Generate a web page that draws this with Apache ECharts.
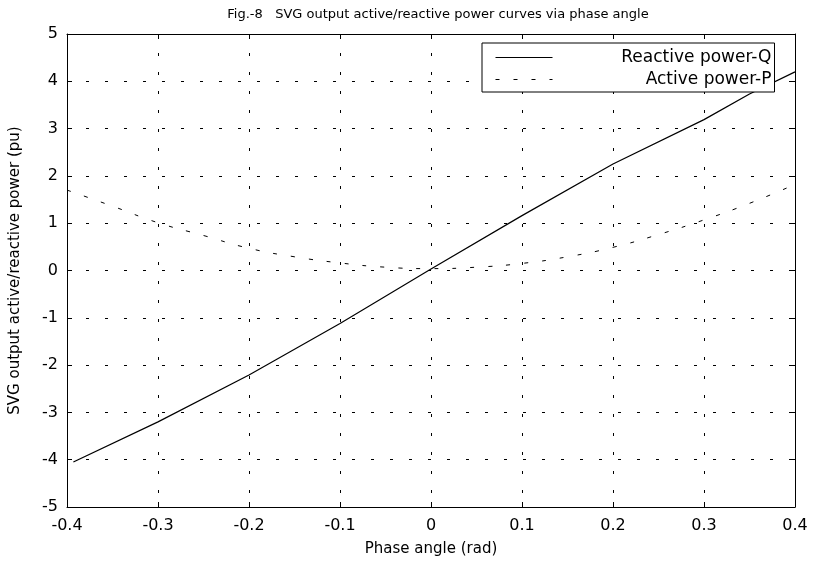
<!DOCTYPE html>
<html>
<head>
<meta charset="utf-8">
<script src="https://cdn.jsdelivr.net/npm/echarts@6/dist/echarts.min.js"></script>
<style>
  html, body { margin: 0; padding: 0; background: #fff; }
  #chart { width: 813px; height: 562px; }
</style>
</head>
<body>
<div id="chart"></div>
<script>
  // phase angle (rad) samples
  const qAngle = [-0.393, -0.3, -0.2, -0.1, 0, 0.1, 0.2, 0.3, 0.35, 0.4];
  const qValues = [-4.05, -3.2, -2.21, -1.12, 0.03, 1.16, 2.25, 3.19, 3.73, 4.2];

  const pAngle = [-0.4, -0.35, -0.3, -0.25, -0.2, -0.15, -0.1, -0.05, 0, 0.05, 0.1, 0.15, 0.2, 0.25, 0.3, 0.35, 0.4];
  const pValues = [1.7, 1.36, 1.01, 0.74, 0.47, 0.29, 0.16, 0.07, 0.04, 0.07, 0.15, 0.29, 0.49, 0.76, 1.07, 1.42, 1.82];

  const xTicks = [-0.4, -0.3, -0.2, -0.1, 0, 0.1, 0.2, 0.3, 0.4];
  const yTicks = [-5, -4, -3, -2, -1, 0, 1, 2, 3, 4, 5];

  const FONT = 'DejaVu Sans';
  const gridLine = { show: true, lineStyle: { color: '#000', width: 1, type: [3, 16] } };

  const fmtX = v => {
    const r = Math.round(v * 10) / 10;
    return r === 0 ? '0' : String(r);
  };

  const chart = echarts.init(document.getElementById('chart'), null, { renderer: 'canvas' });

  chart.setOption({
    animation: false,
    backgroundColor: '#fff',
    title: {
      text: 'Fig.-8   SVG output active/reactive power curves via phase angle',
      left: 433,
      textAlign: 'center',
      top: 3,
      textStyle: { fontFamily: FONT, fontSize: 13, fontWeight: 'normal', color: '#000' }
    },
    grid: { left: 65, right: 18, top: 34, bottom: 55 },
    legend: {
      orient: 'vertical',
      left: 482,
      top: 43,
      padding: [6, 3, 4, 13],
      backgroundColor: '#fff',
      borderColor: '#000',
      borderWidth: 1,
      itemWidth: 57,
      itemHeight: 14,
      itemGap: 5,
      itemStyle: { opacity: 0 },
      lineStyle: { width: 1 },
      formatter: name => '{t|' + name + '}',
      textStyle: {
        fontFamily: FONT, fontSize: 17, color: '#000',
        rich: { t: { fontFamily: FONT, fontSize: 17, color: '#000', width: 214, align: 'right' } }
      },
      data: ['Reactive power-Q', 'Active power-P']
    },
    xAxis: [{
      type: 'value',
      min: -0.4,
      max: 0.4,
      interval: 0.1,
      name: 'Phase angle (rad)',
      nameLocation: 'middle',
      nameGap: 35,
      nameTextStyle: { fontFamily: FONT, fontSize: 15, color: '#000' },
      axisLine: { show: true, onZero: false, lineStyle: { color: '#000', width: 1 } },
      axisTick: { show: true, inside: true, length: 5, lineStyle: { color: '#000' } },
      axisLabel: { fontFamily: FONT, fontSize: 16, color: '#000', margin: 11, formatter: fmtX },
      splitLine: gridLine
    }, {
      type: 'value',
      position: 'top',
      min: -0.4,
      max: 0.4,
      interval: 0.1,
      axisLine: { show: true, onZero: false, lineStyle: { color: '#000', width: 1 } },
      axisTick: { show: true, inside: true, length: 5, lineStyle: { color: '#000' } },
      axisLabel: { show: false },
      splitLine: { show: false }
    }],
    yAxis: [{
      type: 'value',
      min: -5,
      max: 5,
      interval: 1,
      name: 'SVG output active/reactive power (pu)',
      nameLocation: 'middle',
      nameGap: 44,
      nameTextStyle: { fontFamily: FONT, fontSize: 15, color: '#000' },
      axisLine: { show: true, onZero: false, lineStyle: { color: '#000', width: 1 } },
      axisTick: { show: true, inside: true, length: 5, lineStyle: { color: '#000' } },
      axisLabel: { fontFamily: FONT, fontSize: 16, color: '#000', margin: 9 },
      splitLine: gridLine
    }, {
      type: 'value',
      position: 'right',
      min: -5,
      max: 5,
      interval: 1,
      axisLine: { show: true, onZero: false, lineStyle: { color: '#000', width: 1 } },
      axisTick: { show: true, inside: true, length: 5, lineStyle: { color: '#000' } },
      axisLabel: { show: false },
      splitLine: { show: false }
    }],
    series: [{
      name: 'Reactive power-Q',
      type: 'line',
      symbol: 'none',
      smooth: false,
      z: 3,
      lineStyle: { color: '#000', width: 1.2, type: 'solid' },
      itemStyle: { color: '#000' },
      data: qAngle.map((a, i) => [a, qValues[i]])
    }, {
      name: 'Active power-P',
      type: 'line',
      symbol: 'none',
      smooth: true,
      z: 2,
      lineStyle: { color: '#000', width: 1, type: [4, 14] },
      itemStyle: { color: '#000' },
      data: pAngle.map((a, i) => [a, pValues[i]])
    }]
  });
</script>
</body>
</html>
